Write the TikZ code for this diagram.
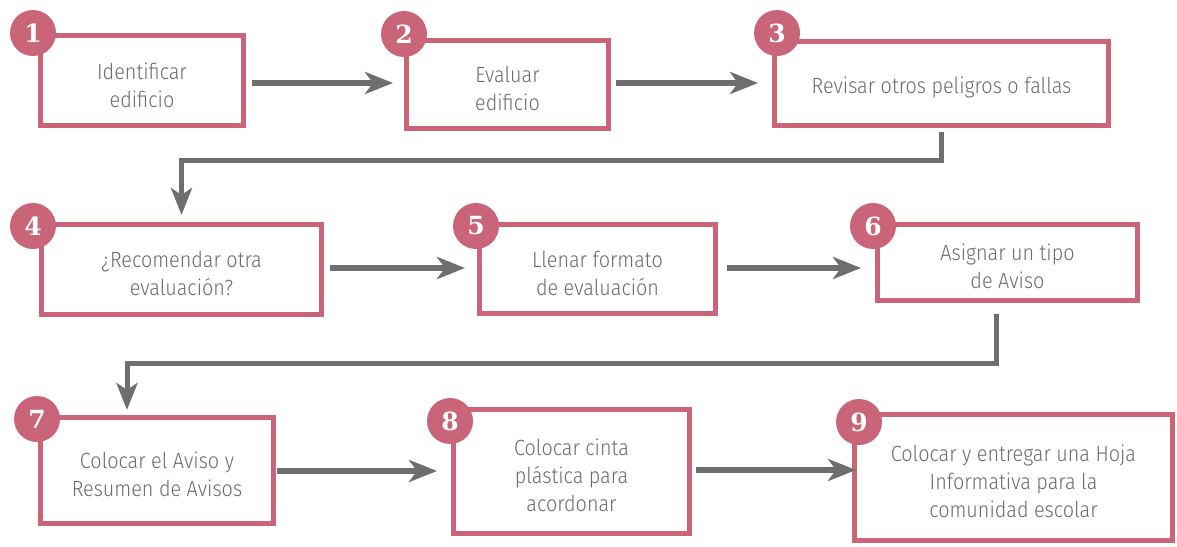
\documentclass[tikz,border=0pt]{standalone}
\usepackage{fontspec}
\setmainfont{Fira Sans}[UprightFont={* Light}, FakeStretch=0.9]
\newfontfamily\badgefont{DejaVu Serif}
\usetikzlibrary{arrows.meta}
\definecolor{pinkc}{HTML}{C96479}
\definecolor{arrgray}{HTML}{6E6E6E}
\definecolor{txtgray}{HTML}{6C6C6C}
\tikzset{
  stepbox/.style={draw=pinkc, line width=5pt, fill=white, inner sep=0pt},
  txt/.style={align=center, text=txtgray, inner sep=0pt, font=\fontsize{22}{28}\selectfont},
  badge/.style={circle, fill=pinkc, minimum size=46pt, inner sep=0pt,
    text=white, font=\badgefont\bfseries\fontsize{25}{25}\selectfont},
  arr/.style={draw=arrgray, line width=6pt,
    -{Stealth[length=28pt,width=22pt,inset=8pt]}},
  conn/.style={draw=arrgray, line width=5pt,
    -{Stealth[length=27pt,width=21pt,inset=7pt]}}
}
\begin{document}
\begin{tikzpicture}[x=1pt,y=-1pt]
\useasboundingbox (0,0) rectangle (1177,546);
% boxes
\node[stepbox, minimum width=203pt, minimum height=90pt] (b1) at (142,80.5) {};
\node[stepbox, minimum width=202pt, minimum height=88pt] (b2) at (507.5,84.5) {};
\node[stepbox, minimum width=334pt, minimum height=84pt] (b3) at (941.5,83.5) {};
\node[stepbox, minimum width=280pt, minimum height=90pt] (b4) at (181.5,269.5) {};
\node[stepbox, minimum width=236pt, minimum height=89pt] (b5) at (597.5,269) {};
\node[stepbox, minimum width=260pt, minimum height=76pt] (b6) at (1007.5,262.5) {};
\node[stepbox, minimum width=233pt, minimum height=106pt] (b7) at (157,470.5) {};
\node[stepbox, minimum width=236pt, minimum height=124pt] (b8) at (571.5,471.5) {};
\node[stepbox, minimum width=318pt, minimum height=126pt] (b9) at (1013.5,477.5) {};
% texts
\node[txt] (t1) at ([yshift=-5pt]b1.center) {Identificar\\edificio};
\node[txt] (t2) at ([yshift=-4pt]b2.center) {Evaluar\\edificio};
\node[txt] (t3) at ([yshift=-4pt]b3.center) {Revisar otros peligros o fallas};
\node[txt] (t4) at ([yshift=-4pt]b4.center) {¿Recomendar otra\\evaluación?};
\node[txt] (t5) at ([yshift=-4pt]b5.center) {Llenar formato\\de evaluación};
\node[txt] (t6) at ([yshift=-4pt]b6.center) {Asignar un tipo\\de Aviso};
\node[txt] (t7) at ([yshift=-4pt]b7.center) {Colocar el Aviso y\\Resumen de Avisos};
\node[txt] (t8) at ([yshift=-4pt]b8.center) {Colocar cinta\\plástica para\\acordonar};
\node[txt] (t9) at ([yshift=-4pt]b9.center) {Colocar y entregar una Hoja\\Informativa para la\\comunidad escolar};
% badges
\node[badge] (c1) at (33,33) {1};
\node[badge] (c2) at (404,34) {2};
\node[badge] (c3) at (777,33) {3};
\node[badge] (c4) at (33,226) {4};
\node[badge] (c5) at (476,226) {5};
\node[badge] (c6) at (873,226) {6};
\node[badge] (c7) at (37,419) {7};
\node[badge] (c8) at (450,421) {8};
\node[badge] (c9) at (859,422) {9};
% horizontal arrows
\draw[arr, shorten <=6pt, shorten >=11pt] (b1.east |- 0,83) -- (b2.west |- 0,83);
\draw[arr, shorten <=5pt, shorten >=14pt] (b2.east |- 0,83) -- (b3.west |- 0,83);
\draw[arr, shorten <=6pt, shorten >=12pt] (b4.east |- 0,268) -- (b5.west |- 0,268);
\draw[arr, shorten <=9pt, shorten >=14pt] (b5.east |- 0,268) -- (b6.west |- 0,268);
\draw[arr, shorten <=1pt, shorten >=14pt] (b7.east |- 0,471) -- (b8.west |- 0,471);
\draw[arr, shorten <=4pt, shorten >=-4pt] (b8.east |- 0,470) -- (b9.west |- 0,470);
% row connectors
\coordinate (k3) at (b3.south);
\coordinate (k4) at (b4.north);
\draw[conn, shorten <=4pt, shorten >=7pt] (k3) -- (k3 |- 0,160) -| (k4);
\coordinate (k6) at ([xshift=-11.5pt]b6.south);
\coordinate (k7) at ([xshift=-30pt]b7.north);
\draw[conn, shorten <=11pt, shorten >=5pt] (k6) -- (k6 |- 0,363) -| (k7);
\end{tikzpicture}
\end{document}
